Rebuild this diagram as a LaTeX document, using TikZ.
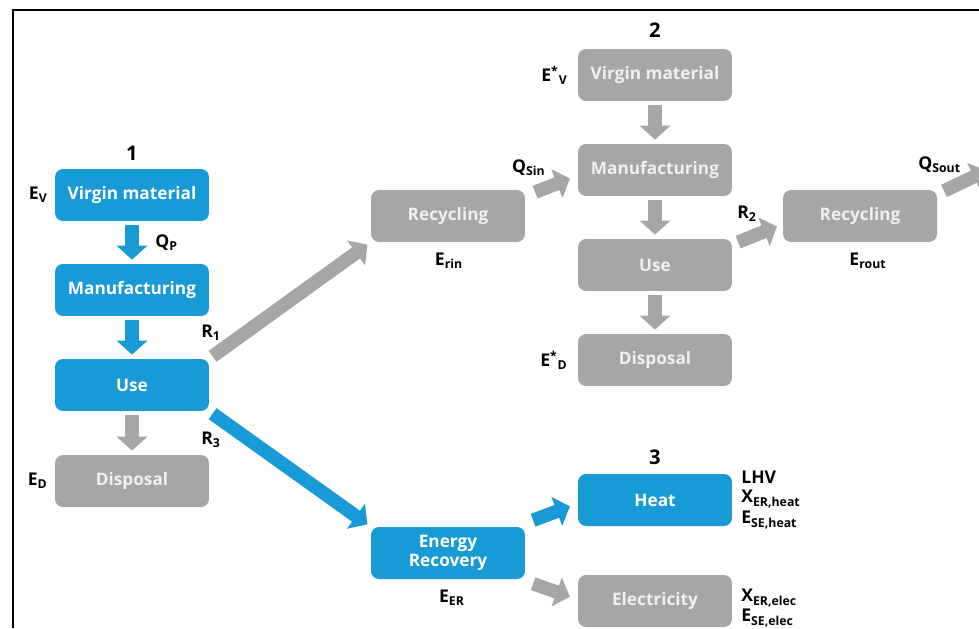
\documentclass[tikz,border=0pt]{standalone}
\usepackage{fontspec}
\setmainfont{Open Sans}
\usetikzlibrary{arrows.meta,calc}
\definecolor{flowblue}{RGB}{24,154,214}
\definecolor{flowgray}{RGB}{166,166,166}

\begin{document}
\begin{tikzpicture}[x=0.02cm,y=-0.02cm,
    box/.style={rounded corners=0.16cm,minimum width=3.08cm,minimum height=1.04cm,
      inner sep=2pt,align=center,font=\bfseries\fontsize{9.8}{11}\selectfont},
    lbl/.style={inner sep=0pt,font=\bfseries\fontsize{10}{11}\selectfont},
    num/.style={inner sep=0pt,font=\bfseries\fontsize{11.5}{12}\selectfont},
    flow/.style={line width=0.27cm,-{Triangle[width=0.6cm,length=0.28cm]},
      shorten <=0.08cm,shorten >=0.08cm},
    blueflow/.style={flow,color=flowblue},
    grayflow/.style={flow,color=flowgray}]
  \useasboundingbox (0,0) rectangle (979,628);
  \draw[line width=1.1pt] (13,628) -- (13,10) -- (979,10);

  % blue boxes
  \begin{scope}[every node/.style={box,fill=flowblue,text=white}]
    \node (vm1) at (132,195) {Virgin material};
    \node (man1) at (132,290) {Manufacturing};
    \node (use1) at (132,385) {Use};
    \node (er) at (448,553) {Energy\\Recovery};
    \node (heat) at (655,500) {Heat};
  \end{scope}

  % gray boxes
  \begin{scope}[every node/.style={box,fill=flowgray,text=white!94!black}]
    \node (disp1) at (132,481) {Disposal};
    \node (rec1) at (448,216) {Recycling};
    \node (vm2) at (655,75) {Virgin material};
    \node (man2) at (655,170) {Manufacturing};
    \node (use2) at (655,265) {Use};
    \node (disp2) at (655,360) {Disposal};
    \node (rec2) at (860,216) {Recycling};
    \node (elec) at (655,601) {Electricity};
  \end{scope}

  % labels
  \node[num] (n1) at (132,153) {1};
  \node[num] (n2) at (655,30) {2};
  \node[num] (n3) at (655,457) {3};
  \begin{scope}[every node/.style={lbl}]
    \node[anchor=east] (ev) at (48,195) {E\textsubscript{V}};
    \node[anchor=west] (qp) at (155,243) {Q\textsubscript{P}};
    \node[anchor=west] (r1) at (201,333) {R\textsubscript{1}};
    \node[anchor=west] (r3) at (201,440) {R\textsubscript{3}};
    \node[anchor=east] (ed) at (48,481) {E\textsubscript{D}};
    \node (erin) at (449,261) {E\textsubscript{rin}};
    \node[anchor=east] (qsin) at (546,168) {Q\textsubscript{Sin}};
    \node[anchor=east] (evs) at (568,75) {E\textsuperscript{*}\textsubscript{V}};
    \node[anchor=east] (eds) at (568,360) {E\textsuperscript{*}\textsubscript{D}};
    \node[anchor=west] (r2) at (737,214) {R\textsubscript{2}};
    \node (erout) at (868,261) {E\textsubscript{rout}};
    \node[anchor=west] (qsout) at (918,165) {Q\textsubscript{Sout}};
    \node (eer) at (452,598) {E\textsubscript{ER}};
    \node[anchor=west] (lhv) at (741,477) {LHV};
    \node[anchor=west] (xheat) at (741,499) {X\textsubscript{ER,heat}};
    \node[anchor=west] (eheat) at (741,520) {E\textsubscript{SE,heat}};
    \node[anchor=west] (xelec) at (741,598) {X\textsubscript{ER,elec}};
    \node[anchor=west] (eelec) at (741,618) {E\textsubscript{SE,elec}};
  \end{scope}

  \coordinate (qend) at (990,169);

  % flows
  \path [blueflow] (vm1) edge (man1);
  \path [blueflow] (man1) edge (use1);
  \path [grayflow] (use1) edge (disp1);
  \path [grayflow] (use1.north east) edge (rec1.south west);
  \path [blueflow] (use1.south east) edge (er.north west);
  \path [grayflow] ($(rec1.north east)+(6,4)$) edge ($(man2.west)+(-4,7)$);
  \path [grayflow] (vm2) edge (man2);
  \path [grayflow] (man2) edge (use2);
  \path [grayflow] (use2) edge (disp2);
  \path [grayflow] ($(use2.north east)+(2,5)$) edge ($(rec2.west)+(-2,9)$);
  \path [grayflow] ($(rec2.north east)+(3,3)$) edge (qend);
  \path [blueflow] ($(er.north east)+(4,-5)$) edge ($(heat.west)+(-4,5)$);
  \path [grayflow] ($(er.south east)+(4,3)$) edge ($(elec.west)+(-4,-3)$);
\end{tikzpicture}
\end{document}
